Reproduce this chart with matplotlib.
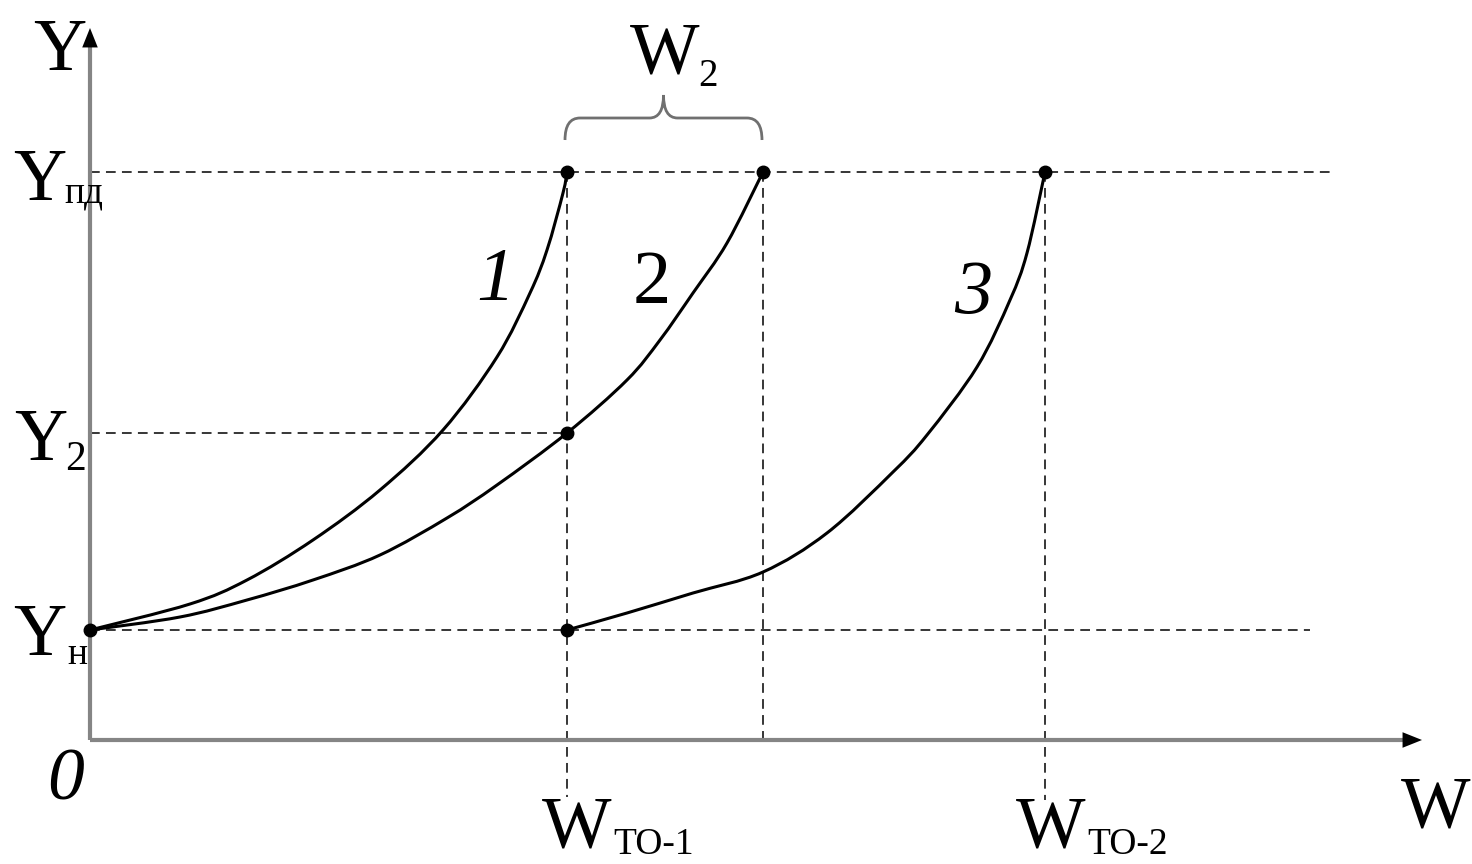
import matplotlib
matplotlib.use("Agg")
import matplotlib.pyplot as plt
from matplotlib.path import Path
from matplotlib.patches import PathPatch

plt.rcParams['font.family'] = ['Liberation Serif', 'DejaVu Serif']
plt.rcParams['lines.scale_dashes'] = False

# levels of the parameter Y and run-time marks W (origin at the axes corner)
Y_N = 110
Y_2 = 307
Y_PD = 568
W_TO1 = 477
W_2_END = 673
W_TO2 = 955

# curve 1: fast wear, reaches Y_pd at W_TO-1
curve1_w = [0, 100, 157, 223, 290, 353, 407, 440, 457, 473, 477]
curve1_y = [110, 136, 160, 200, 250, 310, 383, 447, 490, 547, 568]

# curve 2: passes Y_2 at W_TO-1, reaches Y_pd at W_TO-1 + W_2
curve2_w = [0, 90, 157, 223, 290, 357, 407, 477, 537, 570, 603, 637, 673]
curve2_y = [110, 123, 140, 160, 185, 222, 255, 307, 360, 400, 447, 497, 568]

# curve 3: restored at W_TO-1, reaches Y_pd at W_TO-2
curve3_w = [477, 537, 603, 673, 737, 803, 837, 887, 920, 937, 955]
curve3_y = [110, 127, 147, 168, 207, 268, 305, 373, 440, 487, 568]

# marked points
dots_w = [0, W_TO1, W_TO1, W_TO1, W_2_END, W_TO2]
dots_y = [Y_N, Y_N, Y_2, Y_PD, Y_PD, Y_PD]

fig = plt.figure(figsize=(14.72, 8.64), dpi=100)
ax = fig.add_axes([0, 0, 1, 1])
ax.set_xlim(-90, 1382)
ax.set_ylim(-124, 740)
ax.axis('off')

# axes with arrows
axis_col = '#858585'
ax.plot([0, 1325], [0, 0], color=axis_col, lw=3, solid_capstyle='butt', zorder=2)
ax.plot([0, 0], [0, 705], color=axis_col, lw=3, solid_capstyle='butt', zorder=2)
arrow = dict(arrowstyle='-|>,head_length=0.7,head_width=0.28', color='black',
             lw=0, shrinkA=0, shrinkB=0, mutation_scale=20)
ax.annotate('', xy=(1332, 0), xytext=(1300, 0), arrowprops=arrow)
ax.annotate('', xy=(0, 712), xytext=(0, 680), arrowprops=arrow)

# dashed guide lines
dash = dict(color='black', lw=1.1, dashes=(7, 4.5), zorder=1)
ax.plot([0, 1240], [Y_PD, Y_PD], **dash)
ax.plot([0, 1220], [Y_N, Y_N], **dash)
ax.plot([0, W_TO1], [Y_2, Y_2], **dash)
ax.plot([W_TO1, W_TO1], [Y_PD, -57], **dash)
ax.plot([W_2_END, W_2_END], [Y_PD, 0], **dash)
ax.plot([W_TO2, W_TO2], [Y_PD, -60], **dash)


def smooth_path(w, y):
    # bezier path through the read points (catmull-rom style handles)
    pts = list(zip(w, y))
    n = len(pts)
    verts = [pts[0]]
    codes = [Path.MOVETO]
    for i in range(n - 1):
        p0 = pts[max(i - 1, 0)]
        p1 = pts[i]
        p2 = pts[i + 1]
        p3 = pts[min(i + 2, n - 1)]
        c1 = (p1[0] + (p2[0] - p0[0]) / 6, p1[1] + (p2[1] - p0[1]) / 6)
        c2 = (p2[0] - (p3[0] - p1[0]) / 6, p2[1] - (p3[1] - p1[1]) / 6)
        verts += [c1, c2, p2]
        codes += [Path.CURVE4] * 3
    return Path(verts, codes)


for w, y in [(curve1_w, curve1_y), (curve2_w, curve2_y), (curve3_w, curve3_y)]:
    ax.add_patch(PathPatch(smooth_path(w, y), facecolor='none', edgecolor='black',
                           lw=2.2, capstyle='round', zorder=3))

ax.plot(dots_w, dots_y, 'o', color='black', ms=9, zorder=4)

# brace over W_2
x0, x1 = W_TO1 - 2, W_2_END - 1
xm = (x0 + x1) / 2
yb, yt, ytip = 600, 622, 645
verts = [(x0, yb), (x0, yt), (x0 + 15, yt), (xm - 14, yt), (xm, yt), (xm, ytip),
         (xm, yt), (xm + 14, yt), (x1 - 15, yt), (x1, yt), (x1, yb)]
codes = [Path.MOVETO, Path.CURVE3, Path.CURVE3, Path.LINETO, Path.CURVE3, Path.CURVE3,
         Path.CURVE3, Path.CURVE3, Path.LINETO, Path.CURVE3, Path.CURVE3]
ax.add_patch(PathPatch(Path(verts, codes), facecolor='none', edgecolor='#707070', lw=2))


def lab(px, py, s, size, ha='center', style='normal'):
    ax.text(px - 90, 740 - py, s, fontsize=size, ha=ha, va='baseline',
            fontstyle=style, color='black')


BIG = 53
SUB = 27
lab(60, 70, 'Y', BIG)
lab(40, 200, 'Y', BIG)
lab(64, 202, 'пд', SUB, ha='left')
lab(41, 460, 'Y', BIG)
lab(65, 470, '2', 30, ha='left')
lab(40, 655, 'Y', BIG)
lab(67, 664, 'н', SUB, ha='left')
lab(66, 800, '0', 53, style='italic')
lab(1436, 827, 'W', BIG)
lab(577, 847, 'W', BIG)
lab(613, 854, 'ТО-1', SUB, ha='left')
lab(1051, 847, 'W', BIG)
lab(1087, 854, 'ТО-2', SUB, ha='left')
lab(665, 73, 'W', BIG)
lab(698, 86, '2', 28, ha='left')
lab(495, 300, '1', 55, style='italic')
lab(652, 303, '2', 55)
lab(973, 313, '3', 55, style='italic')

fig.savefig('out.png', dpi=100)
